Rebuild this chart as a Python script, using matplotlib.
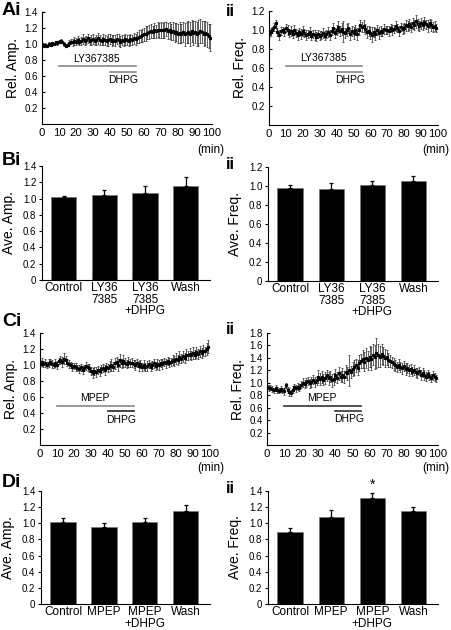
import numpy as np
import matplotlib
matplotlib.use('Agg')
import matplotlib.pyplot as plt

plt.rcParams['font.family'] = ['Liberation Sans', 'DejaVu Sans']

# time axis (min)
t = np.arange(0, 100)

# Ai - relative amplitude, LY367385 + DHPG
amp_a = [1.00, 0.97, 0.99, 0.98, 1.00, 0.99, 1.01, 1.00, 1.02, 1.01,
         1.03, 1.04, 1.02, 1.00, 0.98, 0.99, 1.01, 1.03, 1.02, 1.04,
         1.03, 1.05, 1.03, 1.04, 1.06, 1.04, 1.05, 1.07, 1.04, 1.05,
         1.06, 1.04, 1.05, 1.07, 1.05, 1.04, 1.06, 1.05, 1.04, 1.05,
         1.06, 1.04, 1.05, 1.04, 1.06, 1.05, 1.03, 1.05, 1.04, 1.06,
         1.05, 1.04, 1.06, 1.05, 1.07, 1.06, 1.08, 1.09, 1.10, 1.11,
         1.12, 1.13, 1.14, 1.15, 1.16, 1.15, 1.17, 1.16, 1.18, 1.17,
         1.18, 1.17, 1.18, 1.19, 1.16, 1.17, 1.15, 1.16, 1.14, 1.15,
         1.13, 1.14, 1.13, 1.15, 1.12, 1.14, 1.15, 1.13, 1.16, 1.14,
         1.15, 1.13, 1.14, 1.16, 1.15, 1.13, 1.14, 1.12, 1.10, 1.08]
amp_a_err = [0.01, 0.01, 0.02, 0.01, 0.02, 0.01, 0.02, 0.01, 0.02, 0.02,
             0.02, 0.02, 0.01, 0.02, 0.02, 0.02, 0.04, 0.03, 0.04, 0.05,
             0.04, 0.05, 0.04, 0.05, 0.06, 0.05, 0.05, 0.06, 0.05, 0.06,
             0.06, 0.05, 0.06, 0.07, 0.06, 0.05, 0.07, 0.06, 0.06, 0.07,
             0.06, 0.07, 0.06, 0.07, 0.06, 0.07, 0.07, 0.06, 0.07, 0.07,
             0.06, 0.07, 0.07, 0.06, 0.07, 0.07, 0.07, 0.08, 0.07, 0.08,
             0.08, 0.09, 0.08, 0.09, 0.09, 0.08, 0.09, 0.08, 0.09, 0.09,
             0.10, 0.09, 0.10, 0.09, 0.10, 0.11, 0.10, 0.11, 0.12, 0.11,
             0.12, 0.13, 0.12, 0.13, 0.14, 0.13, 0.14, 0.15, 0.14, 0.15,
             0.14, 0.15, 0.16, 0.15, 0.14, 0.16, 0.15, 0.16, 0.15, 0.17]

# Aii - relative frequency, LY367385 + DHPG
freq_a = [0.96, 0.98, 1.00, 1.03, 1.07, 0.98, 0.95, 0.99, 1.00, 0.98,
          1.02, 1.00, 0.97, 0.99, 0.96, 1.00, 0.97, 0.95, 0.98, 0.96,
          0.99, 0.97, 0.95, 0.96, 0.98, 0.94, 0.96, 0.95, 0.93, 0.96,
          0.94, 0.95, 0.97, 0.94, 0.96, 0.98, 0.95, 0.99, 1.02, 0.97,
          1.00, 1.03, 0.99, 1.01, 0.98, 0.97, 1.00, 1.02, 0.96, 0.99,
          0.97, 1.00, 0.96, 1.00, 1.05, 1.03, 1.04, 1.01, 0.98, 0.99,
          0.97, 0.95, 0.98, 0.96, 1.00, 0.97, 0.99, 0.98, 1.01, 1.00,
          1.00, 0.99, 1.02, 1.00, 1.01, 1.04, 1.02, 0.99, 1.03, 1.01,
          1.02, 1.05, 1.04, 1.06, 1.03, 1.07, 1.05, 1.09, 1.06, 1.04,
          1.07, 1.05, 1.08, 1.06, 1.04, 1.07, 1.05, 1.03, 1.04, 1.02]
freq_a_err = [0.03, 0.04, 0.03, 0.04, 0.03, 0.04, 0.05, 0.04, 0.03, 0.04,
              0.04, 0.05, 0.04, 0.05, 0.04, 0.05, 0.04, 0.05, 0.04, 0.05,
              0.05, 0.04, 0.05, 0.04, 0.05, 0.05, 0.04, 0.05, 0.05, 0.04,
              0.05, 0.04, 0.05, 0.05, 0.04, 0.05, 0.05, 0.04, 0.05, 0.05,
              0.05, 0.06, 0.05, 0.06, 0.11, 0.05, 0.06, 0.05, 0.06, 0.05,
              0.06, 0.05, 0.06, 0.05, 0.06, 0.05, 0.06, 0.05, 0.06, 0.05,
              0.06, 0.08, 0.05, 0.06, 0.05, 0.06, 0.05, 0.04, 0.05, 0.04,
              0.04, 0.05, 0.04, 0.05, 0.04, 0.05, 0.04, 0.05, 0.04, 0.05,
              0.05, 0.06, 0.05, 0.06, 0.05, 0.06, 0.05, 0.07, 0.06, 0.05,
              0.06, 0.05, 0.06, 0.05, 0.06, 0.05, 0.06, 0.05, 0.05, 0.04]

# Bi / Bii - averages
groups_b = ['Control', 'LY36\n7385', 'LY36\n7385\n+DHPG', 'Wash']
ave_amp_b = [1.02, 1.04, 1.07, 1.15]
ave_amp_b_err = [0.01, 0.07, 0.09, 0.11]
ave_freq_b = [0.98, 0.97, 1.01, 1.05]
ave_freq_b_err = [0.03, 0.06, 0.04, 0.05]

# Ci - relative amplitude, MPEP + DHPG
amp_c = [1.02, 1.04, 1.01, 1.03, 1.00, 1.02, 1.04, 1.01, 1.00, 1.02,
         1.00, 1.05, 1.06, 1.04, 1.08, 1.06, 1.03, 1.01, 1.00, 0.98,
         0.99, 0.97, 0.96, 0.95, 0.97, 0.94, 0.96, 0.99, 0.97, 0.96,
         0.92, 0.90, 0.93, 0.91, 0.94, 0.92, 0.95, 0.96, 0.94, 0.97,
         0.96, 0.99, 1.00, 0.98, 1.02, 1.04, 1.00, 1.06, 1.02, 1.05,
         1.03, 1.01, 1.04, 1.02, 1.03, 1.01, 1.00, 1.03, 0.99, 1.01,
         0.98, 1.00, 0.97, 0.99, 1.01, 0.98, 1.00, 1.02, 0.99, 1.01,
         1.00, 1.03, 1.01, 1.04, 1.02, 1.05, 1.03, 1.04, 1.06, 1.05,
         1.08, 1.06, 1.10, 1.08, 1.11, 1.09, 1.13, 1.12, 1.14, 1.12,
         1.15, 1.13, 1.16, 1.14, 1.17, 1.15, 1.18, 1.17, 1.20, 1.23]
amp_c_err = [0.04, 0.05, 0.04, 0.05, 0.04, 0.05, 0.04, 0.05, 0.04, 0.05,
             0.05, 0.04, 0.05, 0.06, 0.07, 0.05, 0.04, 0.05, 0.04, 0.05,
             0.04, 0.05, 0.04, 0.05, 0.04, 0.05, 0.04, 0.05, 0.04, 0.05,
             0.05, 0.06, 0.05, 0.06, 0.05, 0.06, 0.05, 0.05, 0.06, 0.05,
             0.05, 0.06, 0.07, 0.06, 0.07, 0.06, 0.07, 0.08, 0.06, 0.07,
             0.06, 0.05, 0.06, 0.05, 0.06, 0.05, 0.06, 0.05, 0.06, 0.05,
             0.05, 0.06, 0.05, 0.06, 0.05, 0.06, 0.05, 0.06, 0.05, 0.06,
             0.06, 0.05, 0.06, 0.05, 0.06, 0.05, 0.06, 0.05, 0.06, 0.06,
             0.07, 0.06, 0.07, 0.06, 0.07, 0.06, 0.07, 0.06, 0.07, 0.06,
             0.07, 0.06, 0.07, 0.06, 0.07, 0.06, 0.07, 0.06, 0.07, 0.08]

# Cii - relative frequency, MPEP + DHPG
freq_c = [0.93, 0.91, 0.92, 0.90, 0.88, 0.91, 0.89, 0.87, 0.90, 0.88,
          0.86, 0.96, 0.88, 0.85, 0.84, 0.89, 0.93, 0.91, 0.94, 0.92,
          0.97, 1.00, 0.98, 1.01, 1.03, 0.99, 1.02, 1.05, 1.01, 1.04,
          1.10, 1.06, 1.09, 1.05, 1.08, 1.12, 1.07, 1.10, 1.04, 1.06,
          1.12, 1.08, 1.15, 1.10, 1.13, 1.09, 1.18, 1.15, 1.20, 1.17,
          1.22, 1.25, 1.28, 1.24, 1.32, 1.35, 1.38, 1.34, 1.40, 1.36,
          1.42, 1.39, 1.45, 1.41, 1.48, 1.44, 1.42, 1.46, 1.43, 1.40,
          1.41, 1.37, 1.35, 1.33, 1.30, 1.28, 1.26, 1.29, 1.25, 1.23,
          1.27, 1.22, 1.24, 1.20, 1.22, 1.18, 1.21, 1.17, 1.15, 1.19,
          1.13, 1.16, 1.12, 1.10, 1.14, 1.11, 1.08, 1.12, 1.09, 1.07]
freq_c_err = [0.04, 0.05, 0.04, 0.05, 0.04, 0.05, 0.05, 0.04, 0.05, 0.04,
              0.05, 0.04, 0.05, 0.06, 0.05, 0.06, 0.05, 0.06, 0.05, 0.06,
              0.06, 0.07, 0.06, 0.07, 0.06, 0.07, 0.08, 0.07, 0.08, 0.07,
              0.10, 0.09, 0.10, 0.09, 0.10, 0.09, 0.10, 0.09, 0.10, 0.09,
              0.10, 0.09, 0.10, 0.09, 0.11, 0.10, 0.11, 0.10, 0.25, 0.10,
              0.11, 0.12, 0.11, 0.12, 0.13, 0.12, 0.14, 0.15, 0.16, 0.15,
              0.17, 0.18, 0.17, 0.19, 0.24, 0.18, 0.17, 0.16, 0.15, 0.14,
              0.12, 0.11, 0.10, 0.09, 0.10, 0.09, 0.08, 0.09, 0.08, 0.09,
              0.08, 0.09, 0.08, 0.09, 0.08, 0.07, 0.08, 0.07, 0.08, 0.07,
              0.08, 0.07, 0.08, 0.07, 0.06, 0.07, 0.06, 0.07, 0.06, 0.06]

# Di / Dii - averages
groups_d = ['Control', 'MPEP', 'MPEP\n+DHPG', 'Wash']
ave_amp_d = [1.02, 0.96, 1.01, 1.15]
ave_amp_d_err = [0.04, 0.04, 0.05, 0.08]
ave_freq_d = [0.89, 1.08, 1.31, 1.15]
ave_freq_d_err = [0.05, 0.08, 0.06, 0.05]

W, H = 451, 630


def pos(l, r, top, bot):
    return [l / W, 1 - bot / H, (r - l) / W, (bot - top) / H]


fig = plt.figure(figsize=(4.51, 6.30), dpi=100)


def base_style(ax):
    ax.spines['top'].set_visible(False)
    ax.spines['right'].set_visible(False)
    ax.spines['left'].set_linewidth(0.8)
    ax.spines['bottom'].set_linewidth(0.8)


def time_panel(rect, mean, err, ymax, ylabel, drug, bar1_y, bar2_y, col1, col2):
    ax = fig.add_axes(rect)
    base_style(ax)
    ax.errorbar(t, mean, yerr=err, fmt='s-', ms=1.3, lw=0.6, color='k',
                ecolor='#222222', elinewidth=0.5, capsize=1.0, capthick=0.5)
    ax.set_xlim(0, 100)
    ax.set_ylim(0, ymax)
    ax.set_xticks(np.arange(0, 101, 10))
    ax.set_yticks(np.arange(0.2, ymax + 0.01, 0.2))
    ax.set_yticklabels(['%.1f' % v for v in np.arange(0.2, ymax + 0.01, 0.2)])
    ax.tick_params(axis='x', labelsize=8.2, direction='in', length=0, pad=3)
    ax.tick_params(axis='y', labelsize=7, direction='in', length=2.5, pad=3)
    ax.set_ylabel(ylabel, fontsize=10, labelpad=3)
    # drug application bars
    ax.plot([10, 55], [bar1_y, bar1_y], color=col1, lw=1.2)
    ax.plot([40, 55], [bar2_y, bar2_y], color=col2, lw=1.2)
    ax.text(32, bar1_y + 0.025 * ymax, drug, fontsize=7.5, ha='center', va='bottom')
    ax.text(48, bar2_y - 0.03 * ymax, 'DHPG', fontsize=7.5, ha='center', va='top')
    return ax


def bar_panel(rect, groups, vals, errs, ymax, ylabel, star=None):
    ax = fig.add_axes(rect)
    base_style(ax)
    x = np.arange(len(groups))
    ax.bar(x, vals, width=0.62, color='k', edgecolor='#777777', linewidth=0.5)
    ax.errorbar(x, vals, yerr=[np.zeros(len(vals)), errs], fmt='none',
                ecolor='k', elinewidth=0.9, capsize=1.5, capthick=0.9)
    ax.set_xlim(-0.54, 3.6)
    ax.set_ylim(0, ymax)
    ticks = np.arange(0, ymax + 0.01, 0.2)
    ax.set_yticks(ticks)
    ax.set_yticklabels(['0' if v == 0 else '%.1f' % v for v in ticks])
    ax.set_xticks(x)
    ax.set_xticklabels(groups, fontsize=8.5, linespacing=0.95)
    ax.tick_params(axis='x', length=0, pad=1.5)
    ax.tick_params(axis='y', labelsize=7, direction='out', length=2, pad=2)
    ax.set_ylabel(ylabel, fontsize=10, labelpad=5)
    if star is not None:
        ax.text(star, vals[star] + errs[star] + 0.02, '*', fontsize=10,
                ha='center', va='bottom')
    return ax


time_panel(pos(42, 212, 12, 124), amp_a, amp_a_err, 1.4, 'Rel. Amp.',
           'LY367385', 0.72, 0.65, '#888888', '#888888')
time_panel(pos(269, 438, 11, 125), freq_a, freq_a_err, 1.2, 'Rel. Freq.',
           'LY367385', 0.62, 0.56, '#888888', '#888888')
bar_panel(pos(42, 210, 166, 280), groups_b, ave_amp_b, ave_amp_b_err, 1.4, 'Ave. Amp.')
bar_panel(pos(268, 438, 167, 281), groups_b, ave_freq_b, ave_freq_b_err, 1.2, 'Ave. Freq.')
time_panel(pos(40, 210, 333, 445), amp_c, amp_c_err, 1.4, 'Rel. Amp.',
           'MPEP', 0.49, 0.42, '#888888', '#222222')
time_panel(pos(267, 438, 333, 445), freq_c, freq_c_err, 1.8, 'Rel. Freq.',
           'MPEP', 0.63, 0.55, '#333333', '#333333')
bar_panel(pos(41, 210, 491, 604), groups_d, ave_amp_d, ave_amp_d_err, 1.4, 'Ave. Amp.')
bar_panel(pos(268, 438, 491, 604), groups_d, ave_freq_d, ave_freq_d_err, 1.4, 'Ave. Freq.', star=2)

# panel labels
for lab, x, y in [('Ai', 2, 2), ('ii', 226, 4), ('Bi', 2, 152), ('ii', 226, 157),
                  ('Ci', 2, 313), ('ii', 226, 322), ('Di', 2, 474), ('ii', 226, 481)]:
    fig.text(x / W, 1 - y / H, lab, fontsize=14 if lab != 'ii' else 12,
             fontweight='bold', ha='left', va='top')

# (min) unit labels
for x, y in [(224, 150), (449, 150), (224, 468), (449, 468)]:
    fig.text(x / W, 1 - y / H, '(min)', fontsize=8.5, ha='right', va='center')

fig.savefig('out.png', dpi=100)
